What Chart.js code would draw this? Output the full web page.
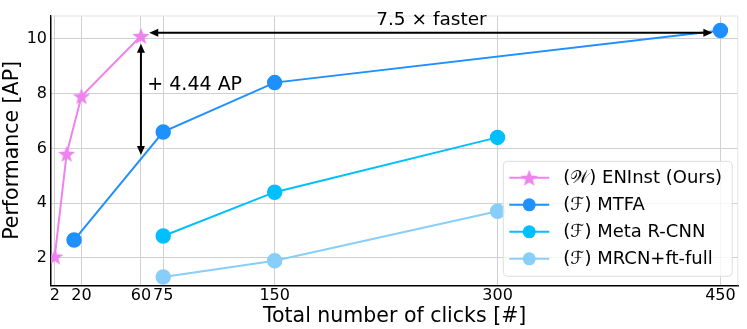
<!DOCTYPE html>
<html>
<head>
<meta charset="utf-8">
<script src="https://cdn.jsdelivr.net/npm/chart.js@4.4.0/dist/chart.umd.min.js"></script>
<style>
  html, body { margin: 0; padding: 0; background: #fff; }
  #wrap { width: 747px; height: 329px; }
</style>
</head>
<body>
<div id="wrap"><canvas id="clicksChart" width="747" height="329"></canvas></div>
<script>
// Data
const xTicks = [2, 20, 60, 75, 150, 300, 450];
const yTicks = [2, 4, 6, 8, 10];

const eninstClicks = [2, 10, 20, 60];
const eninstAP = [2.05, 5.8, 7.9, 10.1];
const mtfaClicks = [15, 75, 150, 450];
const mtfaAP = [2.65, 6.6, 8.4, 10.3];
const metaClicks = [75, 150, 300];
const metaAP = [2.8, 4.4, 6.4];
const mrcnClicks = [75, 150, 300];
const mrcnAP = [1.3, 1.9, 3.7];

const seriesLabels = ['(\u{1D4B2}) ENInst (Ours)', '(\u2131) MTFA', '(\u2131) Meta R-CNN', '(\u2131) MRCN+ft-full'];

// annotation arrows: [x, y] in data units
const speedArrow = [[65.6, 10.22], [444.6, 10.22]];
const gainArrow = [[60, 9.82], [60, 5.76]];

const colors = {
  violet: '#ee82ee',
  dodger: '#1e90ff',
  deepsky: '#00bfff',
  lightsky: '#87cefa'
};
const FONT = "'DejaVu Sans', sans-serif";

function makeStar(radius, color) {
  const c = document.createElement('canvas');
  const size = Math.ceil(radius * 2 + 2);
  c.width = size;
  c.height = size;
  const g = c.getContext('2d');
  const cx = size / 2, cy = size / 2 + radius * 0.08;
  g.beginPath();
  for (let i = 0; i < 10; i++) {
    const r = i % 2 === 0 ? radius : radius * 0.42;
    const a = -Math.PI / 2 + i * Math.PI / 5;
    const px = cx + r * Math.cos(a), py = cy + r * Math.sin(a);
    if (i === 0) g.moveTo(px, py); else g.lineTo(px, py);
  }
  g.closePath();
  g.fillStyle = color;
  g.fill();
  return c;
}

const starImg = makeStar(9, colors.violet);

const toPoints = (xs, ys) => xs.map((x, i) => ({ x, y: ys[i] }));

function drawArrowHead(ctx, x, y, angle) {
  const len = 9, half = 4;
  ctx.save();
  ctx.translate(x, y);
  ctx.rotate(angle);
  ctx.beginPath();
  ctx.moveTo(0, 0);
  ctx.lineTo(-len, -half);
  ctx.lineTo(-len, half);
  ctx.closePath();
  ctx.fill();
  ctx.restore();
}

function drawDoubleArrow(ctx, xs, ys, p) {
  const x1 = xs.getPixelForValue(p[0][0]), y1 = ys.getPixelForValue(p[0][1]);
  const x2 = xs.getPixelForValue(p[1][0]), y2 = ys.getPixelForValue(p[1][1]);
  const ang = Math.atan2(y2 - y1, x2 - x1);
  ctx.beginPath();
  ctx.moveTo(x1 + 6 * Math.cos(ang), y1 + 6 * Math.sin(ang));
  ctx.lineTo(x2 - 6 * Math.cos(ang), y2 - 6 * Math.sin(ang));
  ctx.stroke();
  drawArrowHead(ctx, x2, y2, ang);
  drawArrowHead(ctx, x1, y1, ang + Math.PI);
}

// light frame on the top and right sides
const framePlugin = {
  id: 'frame',
  beforeDatasetsDraw(chart) {
    const { ctx, chartArea: a } = chart;
    ctx.save();
    ctx.strokeStyle = '#e4e4e4';
    ctx.lineWidth = 1;
    ctx.beginPath();
    ctx.moveTo(a.left, a.top + 0.5);
    ctx.lineTo(a.right - 0.5, a.top + 0.5);
    ctx.lineTo(a.right - 0.5, a.bottom);
    ctx.stroke();
    ctx.restore();
  }
};

const annotationPlugin = {
  id: 'annotations',
  afterDatasetsDraw(chart) {
    const { ctx, scales: { x, y } } = chart;
    ctx.save();
    ctx.strokeStyle = '#000';
    ctx.fillStyle = '#000';
    ctx.lineWidth = 2;
    drawDoubleArrow(ctx, x, y, speedArrow);
    drawDoubleArrow(ctx, x, y, gainArrow);
    ctx.font = '18.5px ' + FONT;
    ctx.textAlign = 'center';
    ctx.textBaseline = 'alphabetic';
    ctx.fillText('7.5 \u00d7 faster', x.getPixelForValue(255.5), y.getPixelForValue(10.51));
    ctx.font = '19px ' + FONT;
    ctx.textAlign = 'left';
    ctx.textBaseline = 'middle';
    ctx.fillText('+ 4.44 AP', x.getPixelForValue(64.3), y.getPixelForValue(8.32));
    ctx.restore();
  }
};

const legendPlugin = {
  id: 'boxLegend',
  afterDraw(chart) {
    const { ctx, chartArea } = chart;
    const w = 229, h = 115;
    const left = chartArea.right - 6 - w;
    const top = chartArea.bottom - 9 - h;
    ctx.save();
    ctx.beginPath();
    ctx.roundRect(left, top, w, h, 4);
    ctx.fillStyle = 'rgba(255,255,255,0.8)';
    ctx.fill();
    ctx.strokeStyle = '#dddddd';
    ctx.lineWidth = 1;
    ctx.stroke();
    ctx.font = '18px ' + FONT;
    ctx.textBaseline = 'middle';
    chart.data.datasets.forEach((ds, i) => {
      const cy = top + 16.5 + i * 27;
      ctx.strokeStyle = ds.borderColor;
      ctx.lineWidth = 2;
      ctx.beginPath();
      ctx.moveTo(left + 6, cy);
      ctx.lineTo(left + 46, cy);
      ctx.stroke();
      if (i === 0) {
        ctx.drawImage(starImg, left + 26 - starImg.width / 2, cy - starImg.height / 2);
      } else {
        ctx.fillStyle = ds.backgroundColor;
        ctx.beginPath();
        ctx.arc(left + 26, cy, 6.5, 0, Math.PI * 2);
        ctx.fill();
      }
      ctx.fillStyle = '#000';
      ctx.fillText(ds.label, left + 60, cy + 1);
    });
    ctx.restore();
  }
};

new Chart(document.getElementById('clicksChart'), {
  type: 'line',
  data: {
    datasets: [
      {
        label: seriesLabels[0],
        data: toPoints(eninstClicks, eninstAP),
        borderColor: colors.violet,
        backgroundColor: colors.violet,
        pointStyle: starImg,
        borderWidth: 2
      },
      {
        label: seriesLabels[1],
        data: toPoints(mtfaClicks, mtfaAP),
        borderColor: colors.dodger,
        backgroundColor: colors.dodger,
        pointRadius: 6.75,
        borderWidth: 2
      },
      {
        label: seriesLabels[2],
        data: toPoints(metaClicks, metaAP),
        borderColor: colors.deepsky,
        backgroundColor: colors.deepsky,
        pointRadius: 6.75,
        borderWidth: 2
      },
      {
        label: seriesLabels[3],
        data: toPoints(mrcnClicks, mrcnAP),
        borderColor: colors.lightsky,
        backgroundColor: colors.lightsky,
        pointRadius: 6.75,
        borderWidth: 2
      }
    ]
  },
  options: {
    responsive: false,
    animation: false,
    layout: { padding: { top: 15.5, right: 6, left: 3, bottom: 2 } },
    elements: {
      line: { tension: 0 },
      point: { borderWidth: 0, hoverRadius: 6.75 }
    },
    plugins: {
      legend: { display: false },
      tooltip: { enabled: false }
    },
    scales: {
      x: {
        type: 'linear',
        min: -0.5,
        max: 462,
        afterBuildTicks: (axis) => { axis.ticks = xTicks.map(v => ({ value: v })); },
        ticks: {
          autoSkip: false,
          maxRotation: 0,
          color: '#000',
          padding: 1,
          font: { family: FONT, size: 16 }
        },
        grid: { color: '#d0d0d0', lineWidth: 1, drawTicks: false },
        border: { color: '#000', width: 1.5 },
        title: {
          display: true,
          text: 'Total number of clicks [#]',
          color: '#000',
          padding: { top: 0, bottom: 0 },
          font: { family: FONT, size: 20.5, lineHeight: 1.0 }
        }
      },
      y: {
        min: 1.0,
        max: 10.85,
        afterBuildTicks: (axis) => { axis.ticks = yTicks.map(v => ({ value: v })); },
        ticks: {
          color: '#000',
          padding: 4,
          font: { family: FONT, size: 16 }
        },
        grid: { color: '#d0d0d0', lineWidth: 1, drawTicks: false },
        border: { color: '#000', width: 1.5 },
        title: {
          display: true,
          text: 'Performance [AP]',
          color: '#000',
          padding: { top: 0, bottom: 0 },
          font: { family: FONT, size: 20.5, lineHeight: 0.96 }
        }
      }
    }
  },
  plugins: [framePlugin, annotationPlugin, legendPlugin]
});
</script>
</body>
</html>
